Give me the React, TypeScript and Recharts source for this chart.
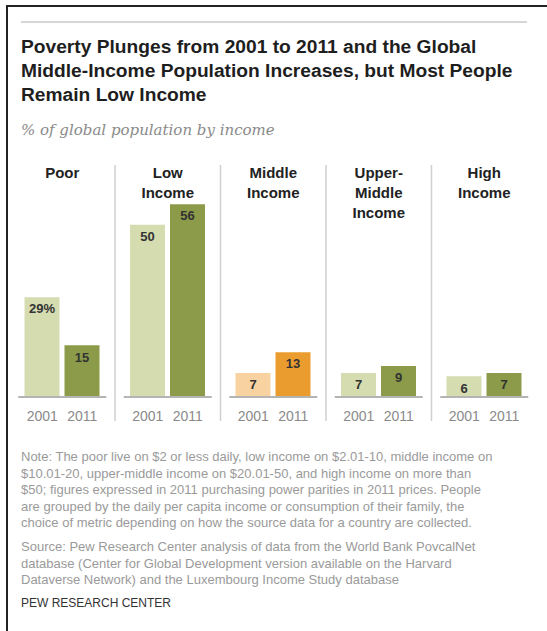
import React from 'react'
import { BarChart, Bar, XAxis, YAxis, Cell, LabelList } from 'recharts'

// groups and values (% of global population)
const panels = ['Poor', 'Low Income', 'Middle Income', 'Upper-Middle Income', 'High Income']
const headerLines = [['Poor'], ['Low', 'Income'], ['Middle', 'Income'], ['Upper-', 'Middle', 'Income'], ['High', 'Income']]
const years = ['2001', '2011']
const share2001 = [29, 50, 7, 7, 6]
const share2011 = [15, 56, 13, 9, 7]

const titleLines = [
  'Poverty Plunges from 2001 to 2011 and the Global',
  'Middle-Income Population Increases, but Most People',
  'Remain Low Income',
]
const noteLines = [
  'Note: The poor live on $2 or less daily, low income on $2.01-10, middle income on',
  '$10.01-20, upper-middle income on $20.01-50, and high income on more than',
  '$50; figures expressed in 2011 purchasing power parities in 2011 prices. People',
  'are grouped by the daily per capita income or consumption of their family, the',
  'choice of metric depending on how the source data for a country are collected.',
]
const sourceLines = [
  'Source: Pew Research Center analysis of data from the World Bank PovcalNet',
  'database (Center for Global Development version available on the Harvard',
  'Dataverse Network) and the Luxembourg Income Study database',
]

const HIGHLIGHT = 'Middle Income'
const GREEN_LIGHT = '#d5dcb0'
const GREEN_DARK = '#8c9b4a'
const ORANGE_LIGHT = '#f8d3a1'
const ORANGE_DARK = '#eb9c2f'

const PANEL_W = 105.5
const SANS = '"Liberation Sans", Arial, sans-serif'

const rows = panels.map((p, i) => ({
  panel: p,
  y2001: share2001[i],
  y2011: share2011[i],
  label2001: i === 0 ? `${share2001[i]}%` : `${share2001[i]}`,
  label2011: `${share2011[i]}`,
}))

// bottom axis tick draws the whole panel frame: baseline, years, header and divider
function PanelTick(props: any) {
  const { x, y, payload } = props
  const idx = panels.indexOf(payload.value)
  const lines = headerLines[idx] ?? []
  return (
    <g>
      {idx > 0 && (
        <line x1={x - PANEL_W / 2} x2={x - PANEL_W / 2} y1={y - 232} y2={y + 24} stroke="#cfcfcf" strokeWidth={1.5} />
      )}
      <text x={x} y={y - 241} textAnchor="middle" fontFamily={SANS} fontWeight={700} fontSize={15} fill="#222">
        {lines.map((l, i) => (
          <tspan key={i} x={x} dy={i === 0 ? 22 : 20}>{l}</tspan>
        ))}
      </text>
      <line x1={x - 44} x2={x + 44} y1={y} y2={y} stroke="#b4b4b4" strokeWidth={2} />
      {years.map((yr, i) => (
        <text key={yr} x={x + (i === 0 ? -20 : 20)} y={y + 24} textAnchor="middle"
          fontFamily={SANS} fontSize={14} fill="#8a8a8a">
          {yr}
        </text>
      ))}
    </g>
  )
}

const labelStyle = { fontFamily: SANS, fontWeight: 700, fontSize: 13, fill: '#333' }

export default function App() {
  return (
    <div style={{ position: 'absolute', left: 0, top: 0, width: 547, height: 631, background: '#fff', overflow: 'hidden', fontFamily: SANS }}>
      <div style={{ position: 'absolute', left: 6, top: 5, right: 0, height: 2, background: '#222' }} />
      <div style={{ position: 'absolute', left: 6, top: 5, bottom: 0, width: 2, background: '#222' }} />
      <div style={{ position: 'absolute', left: 21, top: 21, width: 506, height: 2, background: '#d6d6d6' }} />

      <div style={{ position: 'absolute', left: 21, top: 35, fontSize: 19.2, lineHeight: '24px', fontWeight: 700, color: '#1e1e1e' }}>
        {titleLines.map((t) => <div key={t}>{t}</div>)}
      </div>
      <div style={{ position: 'absolute', left: 21, top: 120, fontSize: 15, lineHeight: '20px', fontStyle: 'italic', fontFamily: '"DejaVu Serif", serif', color: '#8a8a8a' }}>
        % of global population by income
      </div>

      <div style={{ position: 'absolute', left: 0, top: 140 }}>
        <BarChart width={547} height={300} data={rows} margin={{ top: 16, right: 10, bottom: 13, left: 9.5 }}
          barSize={35} barGap={5}>
          <XAxis dataKey="panel" height={30} axisLine={false} tickLine={false} tickSize={0}
            tickMargin={0} tick={<PanelTick />} interval={0} />
          <YAxis hide domain={[0, 70]} />
          <Bar dataKey="y2001" isAnimationActive={false}>
            {rows.map((r) => (
              <Cell key={r.panel} fill={r.panel === HIGHLIGHT ? ORANGE_LIGHT : GREEN_LIGHT} />
            ))}
            <LabelList dataKey="label2001" position="insideTop" offset={7} style={labelStyle} />
          </Bar>
          <Bar dataKey="y2011" isAnimationActive={false}>
            {rows.map((r) => (
              <Cell key={r.panel} fill={r.panel === HIGHLIGHT ? ORANGE_DARK : GREEN_DARK} />
            ))}
            <LabelList dataKey="label2011" position="insideTop" offset={7} style={labelStyle} />
          </Bar>
        </BarChart>
      </div>

      <div style={{ position: 'absolute', left: 21, top: 449, fontSize: 13, lineHeight: '16.5px', color: '#9a9a9a' }}>
        {noteLines.map((t) => <div key={t}>{t}</div>)}
      </div>
      <div style={{ position: 'absolute', left: 21, top: 539, fontSize: 13, lineHeight: '16.5px', color: '#9a9a9a' }}>
        {sourceLines.map((t) => <div key={t}>{t}</div>)}
      </div>
      <div style={{ position: 'absolute', left: 21, top: 595, fontSize: 12, lineHeight: '16px', color: '#333' }}>
        PEW RESEARCH CENTER
      </div>
    </div>
  )
}
